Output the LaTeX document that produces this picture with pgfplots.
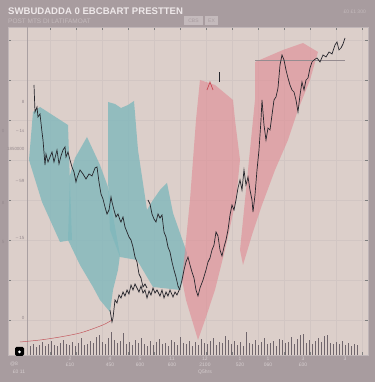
\documentclass[border=0pt]{standalone}
\usepackage{fontspec}
\setmainfont{Liberation Sans}
\usepackage{pgfplots}
\pgfplotsset{compat=1.18}
\usetikzlibrary{backgrounds}
\definecolor{outerbg}{RGB}{168,156,159}
\definecolor{plotbg}{RGB}{220,207,202}
\definecolor{gridc}{RGB}{210,198,195}
\definecolor{tealband}{RGB}{128,184,188}
\definecolor{pinkband}{RGB}{224,138,148}
\definecolor{pricec}{RGB}{38,38,44}
\definecolor{volc}{RGB}{112,102,108}
\definecolor{titlec}{RGB}{238,232,233}
\definecolor{faintc}{RGB}{196,186,188}
\definecolor{tickc}{RGB}{214,206,207}
\definecolor{ytickc}{RGB}{150,138,142}
\begin{document}
\begin{tikzpicture}
\begin{axis}[
  scale only axis, width=360bp, height=328bp,
  xmin=8, xmax=368, ymin=27, ymax=355,
  axis background/.style={fill=plotbg},
  axis line style={draw={rgb,255:red,192;green,182;blue,184}, line width=0.8pt},
  major tick length=0pt,
  xtick={70,110,140,172,205,240,268,303,345},
  xticklabels={{2\\£10},{4\\450},{5\\600},{11\\600},{12\\2100},{1\\520},{1\\060},{3\\£00},{3}},
  xticklabel style={font=\fontsize{5}{5.5}\selectfont, text=tickc, align=center, yshift=1bp},
  ytick={280,251,233,201,144,64},
  yticklabels={8,{-- 1s},1850000,{-- 59},{-- 15},0},
  yticklabel style={font=\fontsize{4.5}{5}\selectfont, text=ytickc, anchor=east, xshift=20bp},
  minor xtick={50,76,102,128,154,180,206,232,258,284,310,336,362},
  minor ytick={62,102,142,182,222,262,302,342},
  minor grid style={draw=gridc, line width=0.5pt},
  grid=minor,
]
\coordinate (O) at (axis cs:0,0);
\addplot[draw={rgb,255:red,170;green,160;blue,162}, line width=0.6pt] coordinates {(27,27) (27,355)};
\addplot[ycomb, draw=volc, line width=0.45pt] coordinates {
(30,36)(33,38)(36,35)(39,37)(42,40)(45,36)(48,38)(51,41)(54,37)(57,36)(60,39)(63,42)(66,38)(69,37)(72,40)(75,36)(78,39)(81,44)(84,37)(87,38)(90,41)(93,39)(96,45)(99,47)(102,40)(105,38)(108,44)(111,50)(114,42)(117,39)(120,41)(123,49)(126,38)(129,40)(132,37)(135,42)(138,39)(141,44)(144,38)(147,36)(150,41)(153,37)(156,40)(159,43)(162,38)(165,39)(168,36)(171,42)(174,40)(177,37)(180,45)(183,39)(186,38)(189,41)(192,36)(195,40)(198,37)(201,43)(204,39)(207,38)(210,41)(213,44)(216,37)(219,40)(222,39)(225,46)(228,42)(231,38)(234,41)(237,37)(240,40)(243,36)(246,50)(249,39)(252,38)(255,42)(258,37)(261,40)(264,44)(267,38)(270,39)(273,41)(276,36)(279,43)(282,42)(285,39)(288,40)(291,45)(294,38)(297,43)(300,47)(303,48)(306,39)(309,42)(312,38)(315,41)(318,44)(321,40)(324,46)(327,47)(330,39)(333,38)(336,40)(339,38)(342,41)(345,37)(348,39)(351,36)(354,38)(357,37)};
\addplot[fill=tealband, draw=none, fill opacity=0.8] coordinates {(29,222)(33,270)(40,275)(68,257)(72,142)(60,140)(42,180)};
\addplot[fill=tealband, draw=none, fill opacity=0.8] coordinates {(70,207)(75,224)(87,245)(100,217)(108,195)(120,127)(118,112)(113,92)(110,70)(100,82)(93,95)(80,117)(68,142)};
\addplot[fill=tealband, draw=none, fill opacity=0.8] coordinates {(108,280)(115,278)(121,274)(128,277)(134,281)(138,232)(147,172)(153,182)(160,192)(167,199)(173,169)(187,129)(183,102)(180,92)(153,95)(137,122)(120,125)(110,152)(108,202)};
\addplot[fill=pinkband, draw=none, fill opacity=0.6] coordinates {(200,302)(215,297)(233,282)(235,262)(240,222)(236,182)(225,132)(215,92)(205,62)(198,42)(192,62)(186,82)(182,102)(190,182)(196,262)};
\addplot[fill=pinkband, draw=none, fill opacity=0.6] coordinates {(255,320)(283,332)(303,339)(318,330)(310,302)(298,272)(288,242)(275,212)(262,177)(252,147)(243,117)(240,132)(245,182)(250,232)(255,282)};
\addplot[draw={rgb,255:red,150;green,140;blue,144}, line width=0.4pt] coordinates {(255,322) (345,322)};
\addplot[draw={rgb,255:red,196;green,90;blue,96}, line width=0.5pt, smooth] coordinates {(20,40)(40,42)(60,45)(80,49)(95,54)(105,58)(112,62)};
\addplot[draw={rgb,255:red,200;green,70;blue,80}, line width=0.7pt] coordinates {(207,292)(210,300)(213,292)};
\addplot[draw=pricec, line width=0.8pt] coordinates {(219,300)(219,310)};
\addplot[draw=pricec, line width=0.7pt] coordinates {(34,297)(35,270)(37,275)(38,265)(40,268)(42,250)(43,242)(45,217)(46,228)(48,220)(50,225)(52,230)(54,220)(56,228)(57,232)(59,218)(61,226)(63,232)(65,235)(66,225)(68,230)(70,222)(72,215)(74,210)(76,200)(77,204)(80,212)(83,208)(86,203)(89,208)(92,206)(95,214)(97,215)(99,200)(101,188)(103,183)(105,175)(107,168)(109,172)(111,185)(112,180)(114,172)(116,165)(118,168)(120,162)(121,160)(123,165)(125,155)(127,150)(129,145)(131,142)(133,135)(135,125)(137,120)(139,108)(141,104)(143,95)(145,98)(147,94)};
\addplot[draw=pricec, line width=0.7pt] coordinates {(148,182)(150,178)(152,168)(154,163)(156,160)(158,168)(160,164)(162,167)(164,150)(166,145)(168,135)(170,130)(172,120)(174,112)(176,105)(178,96)(180,92)};
\addplot[draw=pricec, line width=0.7pt] coordinates {(110,72)(112,60)(113,64)(115,82)(117,79)(119,87)(121,84)(123,90)(125,86)(127,92)(129,88)(131,97)(133,92)(135,98)(137,94)(139,90)(141,96)(143,89)(145,92)(147,84)(149,91)(151,87)(153,94)(155,89)(157,92)(160,86)(162,92)(164,84)(166,90)(168,86)(170,92)(173,85)(175,90)(177,87)(180,94)(182,102)(184,112)(186,120)(188,125)(190,117)(192,110)(194,104)(196,92)(198,86)(200,94)(203,102)(206,112)(208,120)(210,124)(212,132)(214,137)(216,150)(218,146)(220,132)(222,126)(224,135)(226,142)(228,152)(230,167)(232,177)(234,172)(236,182)(238,194)(240,202)(242,192)(244,212)(246,197)(248,205)(250,192)(252,182)(253,170)(255,187)(257,212)(259,232)(261,262)(262,282)(264,257)(266,242)(268,254)(270,252)(272,267)(274,282)(276,285)(278,294)(280,317)(282,327)(284,322)(286,312)(288,304)(290,297)(292,292)(294,290)(296,282)(298,270)(300,287)(302,300)(304,292)(306,302)(308,304)(310,314)(312,320)(314,322)(317,324)(320,320)(323,327)(326,325)(329,330)(332,328)(335,337)(337,340)(339,332)(341,334)(343,338)(345,344)};
\end{axis}
\begin{scope}[shift={(O)}, x=1bp, y=1bp]
\begin{pgfonlayer}{background}
\fill[outerbg] (0,0) rectangle (375,382);
\end{pgfonlayer}
\node[anchor=west, inner sep=0pt, text=titlec, font=\bfseries\fontsize{9.6}{10}\selectfont] at (8,371) {SWBUDADDA 0 EBCBART PRESTTEN};
\node[anchor=west, inner sep=0pt, text=faintc, font=\fontsize{6.5}{7}\selectfont] at (8,361) {POST MTS DI LATIFAMOAT};
\fill[faintc] (184,357) rectangle (203,366);
\fill[faintc] (205,357) rectangle (218,366);
\node[inner sep=0pt, text=outerbg, font=\fontsize{5}{5}\selectfont] at (193.5,361.5) {CBS};
\node[inner sep=0pt, text=outerbg, font=\fontsize{5}{5}\selectfont] at (211.5,361.5) {EX};
\node[anchor=east, inner sep=0pt, text=faintc, font=\fontsize{5}{5}\selectfont] at (366,370) {£0 £1 300};
\node[inner sep=0pt, text=tickc, font=\fontsize{5}{5}\selectfont] at (205,10) {Q5hrs};
\node[inner sep=0pt, text=tickc, font=\fontsize{5}{5}\selectfont] at (14,18) {@8};
\node[inner sep=0pt, text=tickc, font=\fontsize{5}{5}\selectfont] at (19,10) {£0 11};
\node[inner sep=0pt, text=ytickc, font=\fontsize{4.5}{5}\selectfont] at (3,251) {0};
\node[inner sep=0pt, text=ytickc, font=\fontsize{4.5}{5}\selectfont] at (3,179) {8};
\node[inner sep=0pt, text=ytickc, font=\fontsize{4.5}{5}\selectfont] at (3,140) {5};
\fill[black, rounded corners=1.5bp] (15,26) rectangle (24,35);
\fill[white] (19.5,30) circle (1.5bp);
\pgfresetboundingbox
\useasboundingbox (0,0) rectangle (375,382);
\end{scope}
\end{tikzpicture}
\end{document}
